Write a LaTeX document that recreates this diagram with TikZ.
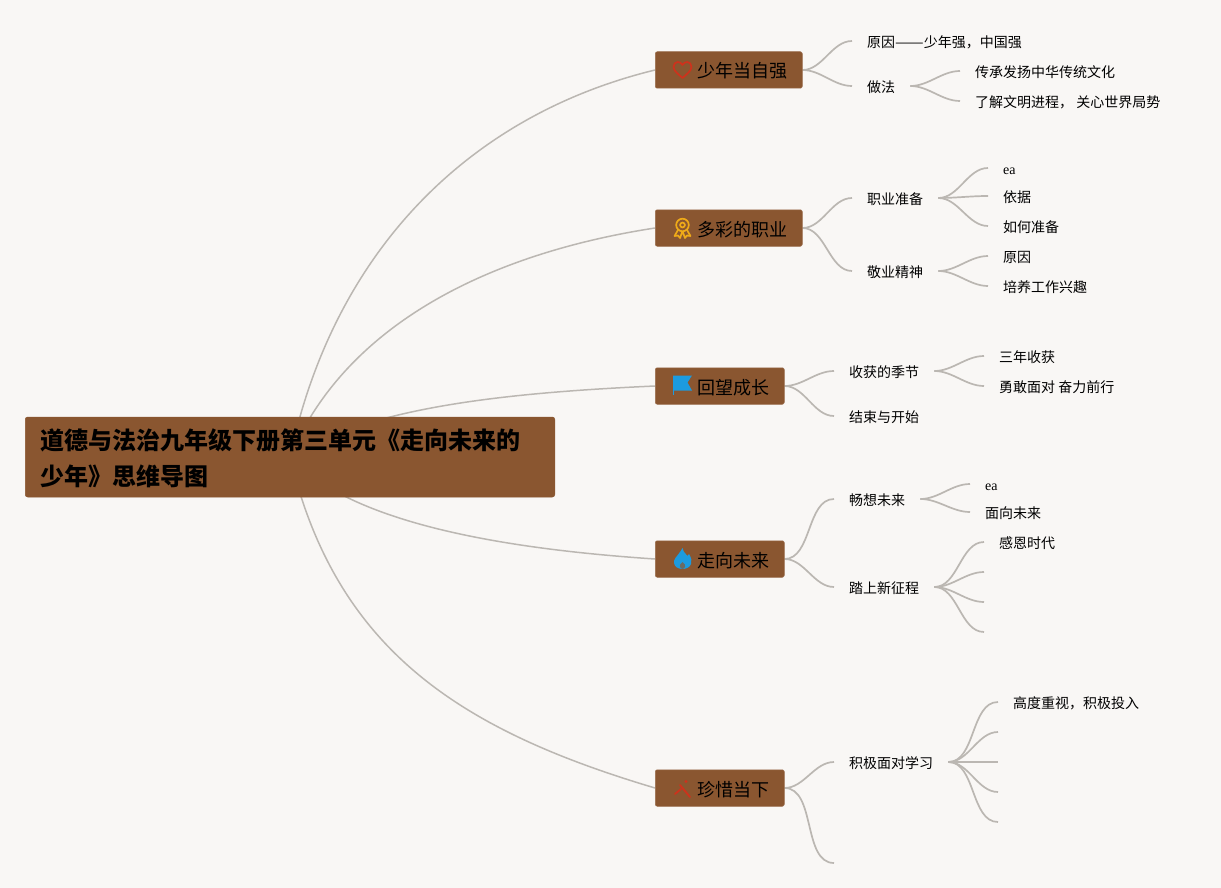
\documentclass[tikz,border=0pt]{standalone}
\usepackage{fontspec}
\usetikzlibrary{backgrounds}
\newfontfamily\cjk{Noto Sans CJK SC}
\newfontfamily\latinserif{Liberation Serif}
\definecolor{pagecol}{HTML}{F9F7F5}
\definecolor{boxcol}{HTML}{8A5630}
\definecolor{linecol}{HTML}{BBB7B2}
\definecolor{iconred}{HTML}{CE321C}
\definecolor{iconyellow}{HTML}{EFAA18}
\definecolor{iconblue}{HTML}{1C9BDF}
\tikzset{
rootbox/.style={anchor=west,fill=boxcol,draw=boxcol,line width=.5pt,rounded corners=2.5pt,minimum height=80pt,inner xsep=15pt,inner ysep=0pt,text width=499.5pt,align=left,font={\cjk\bfseries\fontsize{24pt}{36pt}\selectfont}},
mainbox/.style={anchor=west,fill=boxcol,draw=boxcol!85!white,line width=.5pt,rounded corners=2pt,minimum height=36.5pt,inner xsep=15pt,inner ysep=0pt,text height=17pt,text depth=1pt,font={\cjk\fontsize{18pt}{18pt}\selectfont}},
subtext/.style={anchor=west,inner xsep=15pt,inner ysep=0pt,text height=13pt,text depth=.5pt,font={\cjk\fontsize{14pt}{14pt}\selectfont}},
latintext/.style={subtext,font={\latinserif\fontsize{14pt}{14pt}\selectfont}},
biglink/.style={draw=linecol,line width=1.5pt},
link/.style={draw=linecol,line width=1.7pt,out=0,in=180,looseness=.9},
pics/iconheart/.style={code={
\draw[iconred,line width=1.7pt,line join=round] (0,8) .. controls (-3,5) and (-9,1) .. (-9,-3) .. controls (-9,-6) and (-7,-8) .. (-4.8,-8) .. controls (-2.8,-8) and (-1,-7) .. (0,-5) .. controls (1,-7) and (2.8,-8) .. (4.8,-8) .. controls (7,-8) and (9,-6) .. (9,-3) .. controls (9,1) and (3,5) .. (0,8) -- cycle;
}},
pics/iconrosette/.style={code={
\draw[iconyellow,line width=1.7pt] (0,-3) circle (6.3pt) (0,-3) circle (2.4pt);
\draw[iconyellow,line width=1.7pt,line join=round] (-4.5,2) -- (-8,8) -- (-4.5,7.5) -- (-2.5,10) -- (-.5,4.5) (.5,4.5) -- (2.5,10) -- (4.5,7.5) -- (8,8) -- (4.5,2);
}},
pics/iconflag/.style={code={
\fill[iconblue] (-9.5,-9.5) -- (9.5,-9.5) -- (5,-2.5) -- (9.5,5.5) -- (-9.5,5.5) -- cycle;
\fill[iconblue] (-9.5,-9.5) rectangle (-8.5,9.5);
}},
pics/iconflame/.style={code={
\fill[iconblue] (0,-11) .. controls (1,-6) and (4,-5) .. (5,-3) .. controls (5.5,-4) and (6,-4) .. (6.5,-5) .. controls (9,-1) and (9.5,2) .. (8.5,5) .. controls (7.5,8) and (4,10) .. (0,10) .. controls (-4,10) and (-8,8) .. (-8.5,4) .. controls (-9,0) and (-6,-2) .. (-4,-5) .. controls (-2.5,-7) and (-1,-9) .. (0,-11) -- cycle;
\fill[boxcol!70!iconblue] (0,3) .. controls (2,4.5) and (3,6) .. (2.6,7.5) .. controls (2.2,9) and (1,10) .. (0,10) .. controls (-1,10) and (-2.2,9) .. (-2.6,7.5) .. controls (-3,6) and (-2,4.5) .. (0,3) -- cycle;
}},
pics/icontools/.style={code={
\draw[iconred,line width=1.8pt] (-2,-3) -- (8,9);
\draw[iconred,line width=1.8pt] (-7,6) -- (-1,1);
\fill[iconred] (4,-6.5) circle (1.7pt);
}}
}
\begin{document}
\begin{tikzpicture}[x=1pt,y=-1pt,line cap=round]
\useasboundingbox (0,0) rectangle (1221,888);
\node[rootbox] (root) at (25,457) {\rule{0pt}{24pt}道德与法治九年级下册第三单元《走向未来的\\少年》思维导图};
\node[mainbox] (youth) at (655,70) {\hspace*{27pt}少年当自强};
\node[mainbox] (career) at (655,228) {\hspace*{27pt}多彩的职业};
\node[mainbox] (review) at (655,386) {\hspace*{27pt}回望成长};
\node[mainbox] (future) at (655,559) {\hspace*{27pt}走向未来};
\node[mainbox] (present) at (655,788) {\hspace*{27pt}珍惜当下};
\pic at (682.5,70) {iconheart};
\pic at (682.5,228) {iconrosette};
\pic at (682.5,385) {iconflag};
\pic at (682.5,559) {iconflame};
\pic at (682,788) {icontools};

\node[subtext] (reason) at (852,41) {原因\scalebox{1.22}[1]{——}少年强，中国强};
\node[subtext] (method) at (852,86) {做法};
\node[subtext] (inherit) at (960,71) {传承发扬中华传统文化};
\node[subtext] (world) at (960,101) {了解文明进程， 关心世界局势};

\node[subtext] (prepare) at (852,198) {职业准备};
\node[subtext] (spirit) at (852,271) {敬业精神};
\node[latintext] (eaone) at (988,168) {ea};
\node[subtext] (basis) at (988,196) {依据};
\node[subtext] (howto) at (988,226) {如何准备};
\node[subtext] (cause) at (988,256) {原因};
\node[subtext] (interest) at (988,286) {培养工作兴趣};

\node[subtext] (harvest) at (834,371) {收获的季节};
\node[subtext] (ending) at (834,416) {结束与开始};
\node[subtext] (threeyear) at (984,356) {三年收获};
\node[subtext] (brave) at (984,386) {勇敢面对 奋力前行};

\node[subtext] (imagine) at (834,499) {畅想未来};
\node[subtext] (journey) at (834,587) {踏上新征程};
\node[latintext] (eatwo) at (970,484) {ea};
\node[subtext] (facing) at (970,512) {面向未来};
\node[subtext] (thanks) at (984,542) {感恩时代};
\coordinate (journeyb) at (984,572);
\coordinate (journeyc) at (984,602);
\coordinate (journeyd) at (984,632);

\node[subtext] (study) at (834,762) {积极面对学习};
\coordinate (presentb) at (834,863);
\node[subtext] (value) at (998,702) {高度重视，积极投入};
\coordinate (studyb) at (998,732);
\coordinate (studyc) at (998,762);
\coordinate (studyd) at (998,792);
\coordinate (studye) at (998,822);

\begin{pgfonlayer}{background}
\fill[pagecol] (0,0) rectangle (1221,888);
\draw[biglink] (root.center) .. controls (334,250) and (470,115) .. (youth.west);
\draw[biglink] (root.center) .. controls (343,330) and (480,255) .. (career.west);
\draw[biglink] (root.center) .. controls (368,408) and (500,393) .. (review.west);
\draw[biglink] (root.center) .. controls (348,520) and (490,548) .. (future.west);
\draw[biglink] (root.center) .. controls (336,650) and (460,730) .. (present.west);
\draw[link] (youth.east) to (reason.west);
\draw[link] (youth.east) to (method.west);
\draw[link] (method.east) to (inherit.west);
\draw[link] (method.east) to (world.west);
\draw[link] (career.east) to (prepare.west);
\draw[link] (career.east) to (spirit.west);
\draw[link] (prepare.east) to (eaone.west);
\draw[link] (prepare.east) to (basis.west);
\draw[link] (prepare.east) to (howto.west);
\draw[link] (spirit.east) to (cause.west);
\draw[link] (spirit.east) to (interest.west);
\draw[link] (review.east) to (harvest.west);
\draw[link] (review.east) to (ending.west);
\draw[link] (harvest.east) to (threeyear.west);
\draw[link] (harvest.east) to (brave.west);
\draw[link] (future.east) to (imagine.west);
\draw[link] (future.east) to (journey.west);
\draw[link] (imagine.east) to (eatwo.west);
\draw[link] (imagine.east) to (facing.west);
\draw[link] (journey.east) to (thanks.west);
\draw[link] (journey.east) to (journeyb);
\draw[link] (journey.east) to (journeyc);
\draw[link] (journey.east) to (journeyd);
\draw[link] (present.east) to (study.west);
\draw[link] (present.east) to (presentb);
\draw[link] (study.east) to (value.west);
\draw[link] (study.east) to (studyb);
\draw[link] (study.east) to (studyc);
\draw[link] (study.east) to (studyd);
\draw[link] (study.east) to (studye);
\end{pgfonlayer}
\end{tikzpicture}
\end{document}
